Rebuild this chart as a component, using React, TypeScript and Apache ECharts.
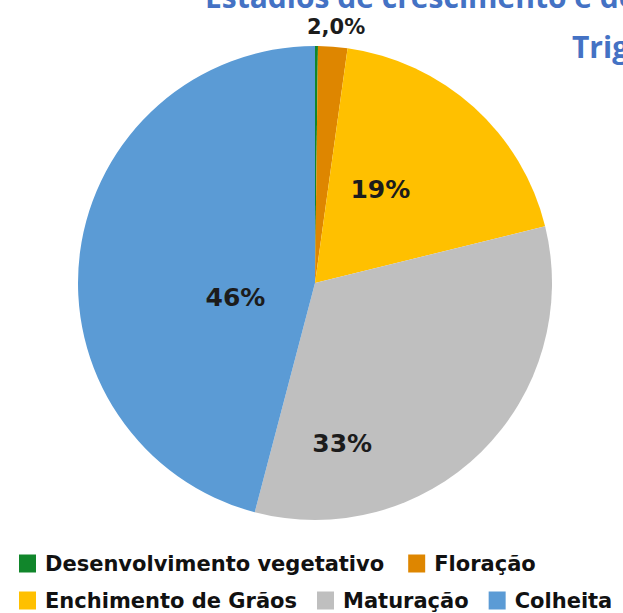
import React, { useEffect, useRef } from "react";
import * as echarts from "echarts";

const categories = [
  "Desenvolvimento vegetativo",
  "Floração",
  "Enchimento de Grãos",
  "Maturação",
  "Colheita",
];
const values = [0.2, 2.0, 19, 33, 46];
const colors = ["#11862B", "#DE8600", "#FFC000", "#BFBFBF", "#5B9BD5"];
const showLabel = [false, true, true, true, true];
const titleLine1 = "Estádios de crescimento e desenvolvimento do";
const titleLine2 = "Trigo";

// label nudges (pixels) relative to ECharts' default inside position
const labelShift: [number, number][] = [
  [0, 0],
  [12, -135],
  [-16, -3],
  [-58, 74],
  [41, 30],
];
const labelSize = [21, 21, 25, 25, 25];

function fmt(v: number): string {
  if (v < 10) return v.toFixed(1).replace(".", ",") + "%";
  return Math.round(v) + "%";
}

export default function App() {
  const ref = useRef<HTMLDivElement>(null);
  useEffect(() => {
    if (!ref.current) return;
    const chart = echarts.init(ref.current, undefined, { renderer: "svg" });
    const legendText = {
      fontFamily: "DejaVu Sans",
      fontWeight: "bold",
      fontSize: 21,
      color: "#111",
      padding: [0, 0, 0, 4],
    };
    chart.setOption({
      animation: false,
      color: colors,
      graphic: [
        {
          type: "text",
          x: 205,
          y: 11,
          style: {
            text: titleLine1,
            font: "bold 30px 'Open Sans'",
            fill: "#4472C4",
            verticalAlign: "bottom",
          },
        },
        {
          type: "text",
          x: 572,
          y: 31,
          style: {
            text: titleLine2,
            font: "bold 30px 'Open Sans'",
            fill: "#4472C4",
            verticalAlign: "top",
          },
        },
      ],
      legend: [
        {
          left: 14,
          top: 548,
          width: 900,
          itemWidth: 17,
          itemHeight: 18,
          itemGap: 24,
          icon: "rect",
          selectedMode: false,
          data: categories.slice(0, 2),
          textStyle: legendText,
        },
        {
          left: 14,
          top: 585,
          width: 900,
          itemWidth: 17,
          itemHeight: 18,
          itemGap: 20,
          icon: "rect",
          selectedMode: false,
          data: categories.slice(2),
          textStyle: legendText,
        },
      ],
      series: [
        {
          type: "pie",
          center: [315, 283],
          radius: 237,
          startAngle: 90,
          clockwise: true,
          avoidLabelOverlap: false,
          silent: true,
          label: {
            show: true,
            position: "inside",
            fontFamily: "DejaVu Sans",
            fontWeight: "bold",
            color: "#1c1c1c",
            formatter: (p: any) => fmt(p.value),
          },
          labelLine: { show: false },
          labelLayout: (p: any) => ({
            dx: labelShift[p.dataIndex][0],
            dy: labelShift[p.dataIndex][1],
          }),
          data: categories.map((name, i) => ({
            name,
            value: values[i],
            label: { show: showLabel[i], fontSize: labelSize[i] },
          })),
        },
      ],
    });
    return () => chart.dispose();
  }, []);
  return (
    <div
      ref={ref}
      style={{
        position: "fixed",
        left: 0,
        top: 0,
        width: 623,
        height: 613,
        background: "#fff",
      }}
    />
  );
}
